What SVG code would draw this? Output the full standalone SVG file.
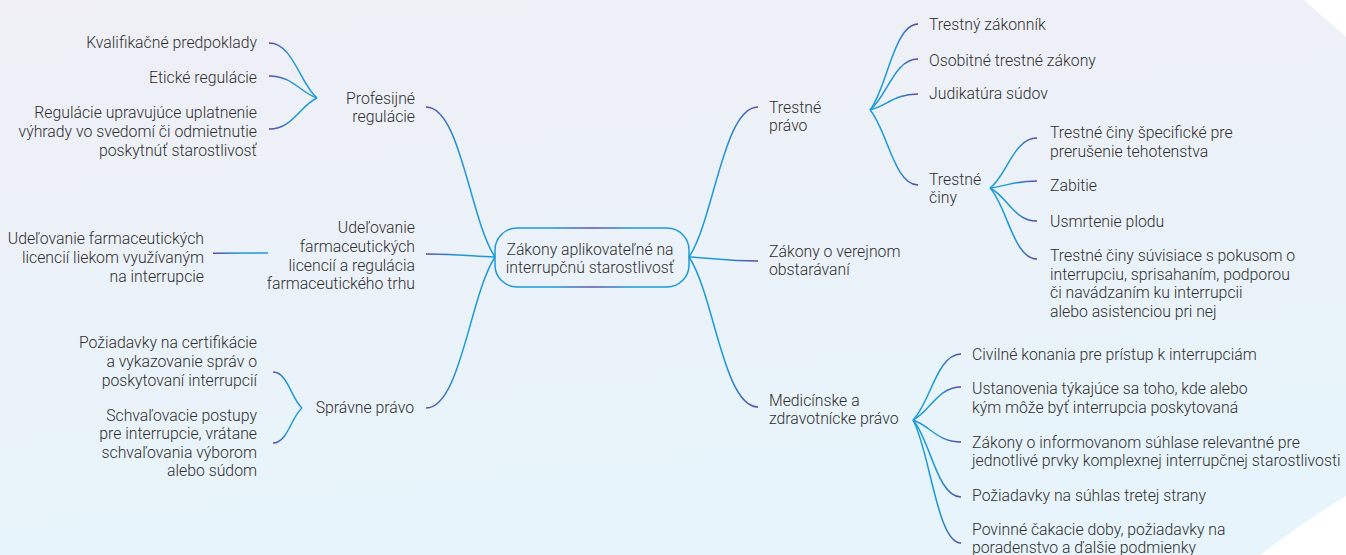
<svg xmlns="http://www.w3.org/2000/svg" width="1346" height="555" viewBox="0 0 1346 555">
<defs>
<linearGradient id="bg" x1="0" y1="0" x2="0.25" y2="1">
<stop offset="0" stop-color="#f0eff6"/>
<stop offset="1" stop-color="#e7f4fb"/>
</linearGradient>
<linearGradient id="gR" x1="0" y1="0" x2="1" y2="0">
<stop offset="0" stop-color="#1b9ad8"/>
<stop offset="0.5" stop-color="#1b9ad8"/>
<stop offset="1" stop-color="#5e45a3"/>
</linearGradient>
<linearGradient id="gL" x1="0" y1="0" x2="1" y2="0">
<stop offset="0" stop-color="#5e45a3"/>
<stop offset="0.5" stop-color="#1b9ad8"/>
<stop offset="1" stop-color="#1b9ad8"/>
</linearGradient>
<linearGradient id="gC" x1="0" y1="0" x2="1" y2="0">
<stop offset="0" stop-color="#1b9ad8"/>
<stop offset="0.3" stop-color="#1b9ad8"/>
<stop offset="0.5" stop-color="#5e55b0"/>
<stop offset="0.7" stop-color="#1b9ad8"/>
<stop offset="1" stop-color="#1b9ad8"/>
</linearGradient>
</defs>
<style>
text{font-family:Roboto,"Liberation Sans",sans-serif;font-size:15.8px;font-weight:300;fill:#2f2f2f}
.e{text-anchor:end}
.m{text-anchor:middle}
.cr{fill:none;stroke:url(#gR);stroke-width:1.5}
.cl{fill:none;stroke:url(#gL);stroke-width:1.5}
</style>
<path d="M0 0 H1304 L1346 37 V496 Q1303 522 1260 555 H0 Z" fill="url(#bg)"/>
<g id="connectors">
<path class="cl" d="M495 257 C470 219.5 460.5 107 426 107"/>
<path class="cl" d="M495 257 C470 256 460.5 254 426 254"/>
<path class="cl" d="M495 257 C470 295 460.5 408 426 408"/>
<path class="cr" d="M689 257 C714 219.5 723.5 107 758 107"/>
<path class="cr" d="M689 257 C714 258 723.5 261 758 261"/>
<path class="cr" d="M689 257 C714 294.5 723.5 407 758 407"/>
<path class="cl" d="M317 98 C300 84 293 43 269 43"/>
<path class="cl" d="M317 98 C300 92.5 293 76 269 76"/>
<path class="cl" d="M317 98 C300 105.5 293 129 269 129"/>
<path class="cl" d="M268 253 L213 253.3"/>
<path class="cl" d="M302 408 C291.5 399 287.5 372 273 372"/>
<path class="cl" d="M302 408 C291.5 416.5 287.5 443 273 443"/>
<path class="cr" d="M870 110 C887 88.5 894 24 918 24"/>
<path class="cr" d="M870 110 C887 97 894 59 918 59"/>
<path class="cr" d="M870 110 C887 106 894 94 918 94"/>
<path class="cr" d="M870 110 C887 129 894 185 918 185"/>
<path class="cr" d="M990 188 C1007 175.5 1013.5 138 1037 138"/>
<path class="cr" d="M990 188 C1007 186 1013.5 181 1037 181"/>
<path class="cr" d="M990 188 C1007 196 1013.5 221 1037 221"/>
<path class="cr" d="M990 188 C1007 206 1013.5 259 1037 259"/>
<path class="cr" d="M913 420 C930 403.5 937 354 961 354"/>
<path class="cr" d="M913 420 C930 412 937 387 961 387"/>
<path class="cr" d="M913 420 C930 425.5 937 442 961 442"/>
<path class="cr" d="M913 420 C930 439 937 497 961 497"/>
<path class="cr" d="M913 420 C930 451 937 543 961 543"/>
</g>
<g id="center">
<rect x="495" y="228" width="194" height="59" rx="22" fill="none" stroke="url(#gC)" stroke-width="1.5"/>
<text class="m" x="590" y="255">Zákony aplikovateľné na</text>
<text class="m" x="590" y="273">interrupčnú starostlivosť</text>
</g>
<g id="profesijne">
<text class="e" x="415" y="104">Profesijné</text>
<text class="e" x="415" y="122">regulácie</text>
</g>
<g id="kvalifikacne"><text class="e" x="257" y="48">Kvalifikačné predpoklady</text></g>
<g id="eticke"><text class="e" x="257" y="83">Etické regulácie</text></g>
<g id="regulacie-vyhrady">
<text class="e" x="257" y="118">Regulácie upravujúce uplatnenie</text>
<text class="e" x="257" y="137">výhrady vo svedomí či odmietnutie</text>
<text class="e" x="257" y="156">poskytnúť starostlivosť</text>
</g>
<g id="udelovanie">
<text class="e" x="415" y="233">Udeľovanie</text>
<text class="e" x="415" y="252">farmaceutických</text>
<text class="e" x="415" y="271">licencií a regulácia</text>
<text class="e" x="415" y="289">farmaceutického trhu</text>
</g>
<g id="udelovanie-licencii">
<text class="e" x="204" y="244">Udeľovanie farmaceutických</text>
<text class="e" x="204" y="263">licencií liekom využívaným</text>
<text class="e" x="204" y="282">na interrupcie</text>
</g>
<g id="spravne">
<text class="e" x="414" y="413">Správne právo</text>
</g>
<g id="poziadavky-cert">
<text class="e" x="257" y="348">Požiadavky na certifikácie</text>
<text class="e" x="257" y="367">a vykazovanie správ o</text>
<text class="e" x="257" y="386">poskytovaní interrupcií</text>
</g>
<g id="schvalovacie">
<text class="e" x="257" y="421">Schvaľovacie postupy</text>
<text class="e" x="257" y="439">pre interrupcie, vrátane</text>
<text class="e" x="257" y="458">schvaľovania výborom</text>
<text class="e" x="257" y="476">alebo súdom</text>
</g>
<g id="trestne-pravo">
<text x="769" y="113">Trestné</text>
<text x="769" y="131">právo</text>
</g>
<g id="verejne-obstaravanie">
<text x="769" y="257">Zákony o verejnom</text>
<text x="769" y="275">obstarávaní</text>
</g>
<g id="medicinske">
<text x="769" y="406">Medicínske a</text>
<text x="769" y="424">zdravotnícke právo</text>
</g>
<g id="trestny-zakonnik"><text x="929" y="30">Trestný zákonník</text></g>
<g id="osobitne"><text x="929" y="66">Osobitné trestné zákony</text></g>
<g id="judikatura"><text x="929" y="99">Judikatúra súdov</text></g>
<g id="trestne-ciny">
<text x="929" y="185">Trestné</text>
<text x="929" y="203">činy</text>
</g>
<g id="ciny-specificke">
<text x="1050" y="138">Trestné činy špecifické pre</text>
<text x="1050" y="157">prerušenie tehotenstva</text>
</g>
<g id="zabitie"><text x="1050" y="191">Zabitie</text></g>
<g id="usmrtenie"><text x="1050" y="227">Usmrtenie plodu</text></g>
<g id="ciny-suvisiace">
<text x="1050" y="261">Trestné činy súvisiace s pokusom o</text>
<text x="1050" y="280">interrupciu, sprisahaním, podporou</text>
<text x="1050" y="298">či navádzaním ku interrupcii</text>
<text x="1050" y="317">alebo asistenciou pri nej</text>
</g>
<g id="civilne"><text x="972" y="360">Civilné konania pre prístup k interrupciám</text></g>
<g id="ustanovenia">
<text x="972" y="394">Ustanovenia týkajúce sa toho, kde alebo</text>
<text x="972" y="413">kým môže byť interrupcia poskytovaná</text>
</g>
<g id="informovany-suhlas">
<text x="972" y="448">Zákony o informovanom súhlase relevantné pre</text>
<text x="972" y="466">jednotlivé prvky komplexnej interrupčnej starostlivosti</text>
</g>
<g id="suhlas-tretej"><text x="972" y="501">Požiadavky na súhlas tretej strany</text></g>
<g id="povinne">
<text x="972" y="535">Povinné čakacie doby, požiadavky na</text>
<text x="972" y="553">poradenstvo a ďalšie podmienky</text>
</g>
</svg>
